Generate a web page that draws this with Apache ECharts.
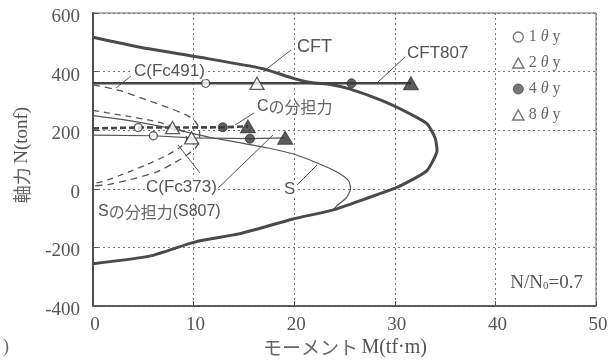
<!DOCTYPE html>
<html>
<head>
<meta charset="utf-8">
<script src="https://cdn.jsdelivr.net/npm/echarts@6/dist/echarts.min.js"></script>
<style>
  html, body { margin: 0; padding: 0; background: #fff; }
  #chart { width: 616px; height: 363px; }
</style>
</head>
<body>
<div id="chart"></div>
<script>
// M-N interaction diagram of a CFT column (M in tf·m, N in tonf)
const xTicks = [0, 10, 20, 30, 40, 50];
const yTicks = [-400, -200, 0, 200, 400, 600];

// CFT full-section capacity envelope
const cftM = [0, 4.7, 10.6, 16.9, 19.9, 21.8, 23.6, 25.5, 28.8, 31.5, 33.2, 34.0, 34.2, 33.8, 33.2, 32.2, 30.2, 27.0, 23.9, 19.9, 14.6, 10.1, 5.7, 0];
const cftN = [517, 483, 449, 410, 377, 362, 356, 341, 300, 256, 222, 174, 130, 96, 62, 40, 5, -35, -72, -103, -153, -182, -229, -256];

// steel tube share envelope (S)
const sM = [0, 3, 6, 9, 11.7, 14.5, 17.3, 20, 22.3, 24.2, 25.4, 25.6, 25.2, 24.3, 23.9];
const sN = [250, 236, 218, 196, 175, 158, 140, 118, 88, 58, 28, 0, -30, -56, -70];

// concrete share envelopes
const c491M = [0, 2.7, 4.7, 7.4, 9.4, 10.2, 10.6, 10.6, 10.2, 9.2, 7.9, 6.3, 4.0, 1.5, 0];
const c491N = [355, 335, 311, 278, 250, 228, 200, 165, 140, 112, 85, 57, 34, 14, 10];
const c373M = [0, 3, 6, 8, 9.2, 9.3, 8.6, 7.2, 5.3, 3.0, 1.0, 0];
const c373N = [268, 250, 232, 212, 190, 165, 140, 112, 82, 50, 25, 18];

// test paths: index 0 is the start on the N axis, 1..4 are the 1θy, 2θy, 4θy, 8θy cycles
const cft807M = [0, 11.2, 16.3, 25.7, 31.6];
const cft807N = [360, 360, 360, 360, 360];
const cShareM = [0, 4.5, 7.9, 12.9, 15.4];
const cShareN = [206, 209, 209, 210, 213];
const sShareM = [0, 6.0, 9.8, 15.6, 19.1];
const sShareN = [183, 181, 174, 171, 174];
const stepNames = ['1θy', '2θy', '4θy', '8θy'];

const ink = '#444';
const textInk = '#555';
const serifFamily = 'Liberation Serif';
const sansFamily = 'Liberation Sans';
const cjkFamily = 'Noto Sans CJK JP';

const pairs = (ms, ns) => ms.map((m, i) => [m, ns[i]]);

function lineSeries(name, ms, ns, style, z) {
  return {
    name: name, type: 'line', data: pairs(ms, ns), showSymbol: false,
    smooth: 0.2, lineStyle: style, z: z || 2, silent: true
  };
}

const markerStyles = [
  { symbol: 'circle', symbolSize: 8, itemStyle: { color: '#fff', borderColor: '#333', borderWidth: 1.3 } },
  { symbol: 'triangle', symbolSize: [14, 12], itemStyle: { color: '#fff', borderColor: '#333', borderWidth: 1.3 } },
  { symbol: 'circle', symbolSize: 9, itemStyle: { color: '#3a3a3a', borderColor: '#333', borderWidth: 1 } },
  { symbol: 'triangle', symbolSize: [15, 13], itemStyle: { color: '#333', borderColor: '#333', borderWidth: 1 } }
];

const markerSeries = stepNames.map((name, k) => {
  const i = k + 1;
  return Object.assign({
    name: name, type: 'scatter', z: 5,
    data: [[cft807M[i], cft807N[i]], [cShareM[i], cShareN[i]], [sShareM[i], sShareN[i]]]
  }, markerStyles[k]);
});

const legendIcons = [
  { name: stepNames[0], icon: 'circle', itemStyle: { color: '#fff', borderColor: '#555', borderWidth: 1.3 } },
  { name: stepNames[1], icon: 'triangle', itemStyle: { color: '#fff', borderColor: '#555', borderWidth: 1.5 } },
  { name: stepNames[2], icon: 'circle', itemStyle: { color: '#555', borderColor: '#444', borderWidth: 1 } },
  { name: stepNames[3], icon: 'triangle', itemStyle: { color: '#fff', borderColor: '#555', borderWidth: 1.5 } }
];

// label text with leader lines; Latin runs in a sans face, kana/kanji in the CJK face
const notes = [
  { text: '{s|CFT}', x: 297, y: 47, size: 18, line: [291, 50, 264, 71] },
  { text: '{s|CFT807}', x: 407, y: 53, size: 17, line: [405, 57, 378, 82] },
  { text: '{s|C(Fc491)}', x: 133, y: 71, size: 17, bg: true, line: [131, 76, 116, 88] },
  { text: '{s|C}{j|の分担力}', x: 257, y: 107, size: 16, line: [254, 113, 235, 125] },
  { text: '{s|C(Fc373)}', x: 145, y: 187, size: 17, bg: true, line: [200, 173, 178, 145] },
  { text: '{s|S}', x: 283, y: 189, size: 17, bg: true, line: [297, 185, 317, 165] },
  { text: '{s|S}{j|の分担力}{s|(S807)}', x: 98, y: 212, size: 16, line: [213, 193, 273, 135] }
];

const graphics = [];
notes.forEach(n => {
  graphics.push({
    type: 'line', z: 10, silent: true,
    shape: { x1: n.line[0], y1: n.line[1], x2: n.line[2], y2: n.line[3] },
    style: { stroke: '#555', lineWidth: 1 }
  });
});
notes.forEach(n => {
  graphics.push({
    type: 'text', z: 11, silent: true, x: n.x, y: n.y,
    style: {
      text: n.text, align: 'left', verticalAlign: 'middle',
      backgroundColor: n.bg ? '#fff' : 'transparent',
      padding: n.bg ? [0, 1] : 0,
      rich: {
        s: { fontFamily: sansFamily, fontSize: n.size, fill: textInk },
        j: { fontFamily: cjkFamily, fontSize: n.size, fill: '#666' }
      }
    }
  });
});
graphics.push({
  type: 'text', z: 11, silent: true, x: 583, y: 283,
  style: {
    text: '{a|N/N}{b|0}{a|=0.7}', align: 'right', verticalAlign: 'middle',
    rich: {
      a: { fontFamily: serifFamily, fontSize: 19, fill: textInk },
      b: { fontFamily: serifFamily, fontSize: 11, fill: textInk, padding: [6, 0, 0, 0] }
    }
  }
});
graphics.push({
  type: 'text', silent: true, x: 3, y: 347,
  style: { text: '{a|)}', verticalAlign: 'middle', rich: { a: { fontFamily: serifFamily, fontSize: 18, fill: '#666' } } }
});
// axis titles
graphics.push({
  type: 'text', silent: true, x: 345, y: 348,
  style: {
    text: '{a|モーメント} {b|M(tf·m)}', align: 'center', verticalAlign: 'middle',
    rich: {
      a: { fontFamily: cjkFamily, fontSize: 19, fill: '#666' },
      b: { fontFamily: serifFamily, fontSize: 20, fill: textInk }
    }
  }
});
graphics.push({
  type: 'text', silent: true, x: 22, y: 155, rotation: Math.PI / 2,
  style: {
    text: '{a|軸力} {b|N(tonf)}', align: 'center', verticalAlign: 'middle',
    rich: {
      a: { fontFamily: cjkFamily, fontSize: 18, fill: '#666' },
      b: { fontFamily: serifFamily, fontSize: 19, fill: textInk }
    }
  }
});

const chart = echarts.init(document.getElementById('chart'), null, { renderer: 'canvas' });

chart.setOption({
  backgroundColor: '#fff',
  animation: false,
  grid: { left: 93, right: 20, top: 13, bottom: 57, show: true, borderColor: '#666', borderWidth: 1 },
  legend: {
    orient: 'vertical', left: 507, top: 24,
    itemWidth: 11, itemHeight: 10, itemGap: 10,
    data: legendIcons,
    formatter: name => '{n|' + name.charAt(0) + '}{t| θ}{n| y}',
    textStyle: {
      color: '#666', lineHeight: 16,
      rich: {
        n: { fontFamily: serifFamily, fontSize: 16, color: '#666' },
        t: { fontFamily: serifFamily, fontStyle: 'italic', fontSize: 16, color: '#666' }
      }
    }
  },
  xAxis: {
    type: 'value', min: xTicks[0], max: xTicks[xTicks.length - 1], interval: xTicks[1] - xTicks[0],
    axisLine: { show: true, onZero: false, lineStyle: { color: ink, width: 1.5 } },
    axisTick: { show: true, inside: true, length: 5, lineStyle: { color: '#555' } },
    axisLabel: { show: false },
    splitLine: { show: true, lineStyle: { type: [2, 3], color: '#777', width: 1 } }
  },
  yAxis: {
    type: 'value', min: yTicks[0], max: yTicks[yTicks.length - 1], interval: yTicks[1] - yTicks[0],
    axisLine: { show: true, onZero: false, lineStyle: { color: ink, width: 1.8 } },
    axisTick: { show: true, inside: true, length: 5, lineStyle: { color: '#555' } },
    axisLabel: { show: false },
    splitLine: { show: true, lineStyle: { type: [2, 3], color: '#777', width: 1 } }
  },
  series: [
    lineSeries('CFT', cftM, cftN, { color: '#4a4a4a', width: 3 }, 3),
    lineSeries('S', sM, sN, { color: '#555', width: 1.2 }),
    lineSeries('C(Fc491)', c491M, c491N, { color: '#555', width: 1.3, type: [7, 5] }),
    lineSeries('C(Fc373)', c373M, c373N, { color: '#555', width: 1.3, type: [6, 5] }),
    Object.assign(lineSeries('CFT807', cft807M, cft807N, { color: '#444', width: 2.5 }, 4), { smooth: false }),
    Object.assign(lineSeries('Cの分担力', cShareM, cShareN, { color: '#444', width: 2.6, type: [6, 3] }, 4), { smooth: false }),
    Object.assign(lineSeries('Sの分担力', sShareM, sShareN, { color: '#555', width: 1.2 }, 4), { smooth: false })
  ].concat(markerSeries)
});

// tick labels in a serif face, placed through the axis scales
const tickRich = { v: { fontFamily: serifFamily, fontSize: 19, fill: textInk } };
xTicks.forEach(v => {
  const p = chart.convertToPixel({ gridIndex: 0 }, [v, yTicks[0]]);
  graphics.push({
    type: 'text', silent: true, x: p[0] + 2, y: p[1] + 19,
    style: { text: '{v|' + v + '}', rich: tickRich, align: 'center', verticalAlign: 'middle' }
  });
});
yTicks.forEach(v => {
  const p = chart.convertToPixel({ gridIndex: 0 }, [xTicks[0], v]);
  graphics.push({
    type: 'text', silent: true, x: p[0] - 13, y: p[1] + 4,
    style: { text: '{v|' + v + '}', rich: tickRich, align: 'right', verticalAlign: 'middle' }
  });
});
chart.setOption({ graphic: graphics });
</script>
</body>
</html>
